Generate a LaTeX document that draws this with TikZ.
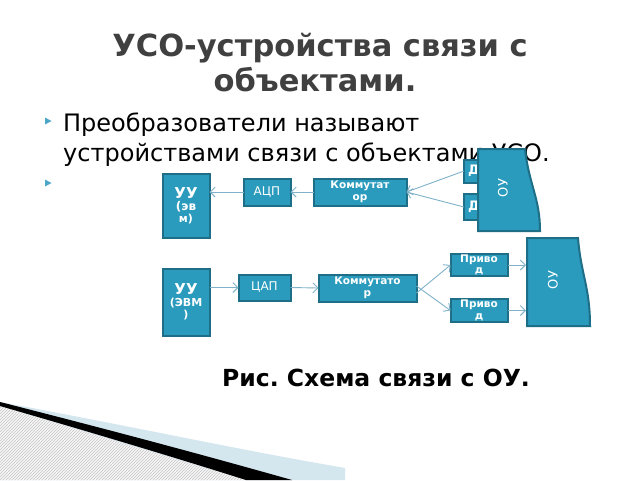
\documentclass[tikz,border=0pt]{standalone}
\usepackage{fontspec}
\setmainfont{DejaVu Sans}
\usetikzlibrary{arrows.meta,patterns}
\definecolor{boxfill}{HTML}{2A9BBD}
\definecolor{boxborder}{HTML}{1D6E86}
\definecolor{arrowc}{HTML}{7FB2C9}
\definecolor{titlec}{HTML}{404040}
\definecolor{bulletc}{HTML}{4BA6C8}
\definecolor{bandc}{HTML}{D4E6EE}
\frenchspacing
\begin{document}
\begin{tikzpicture}[x=1pt,y=-1pt,
  blk/.style={draw=boxborder, line width=2pt, fill=boxfill, text=white, inner sep=0pt, outer sep=0pt, align=center},
  conn/.style={draw=arrowc, line width=0.9pt, -{Straight Barb[length=5pt,width=10pt]}},
  ttl/.style={text=titlec, font=\fontsize{30.5}{36}\selectfont\bfseries, anchor=base, inner sep=0pt},
  body/.style={text=black, font=\fontsize{24}{28}\selectfont, anchor=base west, inner sep=0pt},
  small/.style={font=\fontsize{10.5}{11.5}\selectfont\bfseries},
  dbox/.style={blk, minimum width=28pt, text width=20pt, align=left, font=\fontsize{13}{13}\selectfont\bfseries},
  oulabel/.style={rotate=90, text=white, font=\fontsize{13}{13}\selectfont, inner sep=0pt}
]
\useasboundingbox (0,0) rectangle (640,480);
\fill[white] (0,0) rectangle (640,480);

% bottom-left decoration
\fill[bandc] (0,402) .. controls (140,428) and (240,450) .. (345,468) -- (345,480) -- (0,480) -- cycle;
\fill[gray!6] (0,406) -- (246,480) -- (0,480) -- cycle;
\fill[pattern=north east lines, pattern color=gray!45] (0,406) -- (246,480) -- (0,480) -- cycle;
\fill[black] (0,402) .. controls (110,430) and (200,454) .. (292,480) -- (246,480) .. controls (170,456) and (90,432) .. (0,406) -- cycle;

% title
\node[ttl] (t1) at (320,56) {УСО-устройства связи с};
\node[ttl] (t2) at (315,91) {объектами.};

% bullets
\fill[bulletc] (45,117.5) -- (51.5,121) -- (45,124.5) -- cycle;
\fill[bulletc] (45,179.5) -- (51.5,183) -- (45,186.5) -- cycle;
\node[body] (b1) at (63,131) {Преобразователи называют};
\node[body] (b2) at (63,161) {устройствами связи с объектами УСО.};

% top row
\node[blk, minimum width=47pt, minimum height=64pt] (uu1) at (186,205.5) {\fontsize{15}{15}\selectfont\bfseries УУ\\\fontsize{12}{13}\selectfont\bfseries (эв\\\fontsize{11}{12}\selectfont\bfseries м)};
\node[blk, minimum width=47pt, minimum height=27pt, font=\fontsize{12}{13}\selectfont] (acp) at (267,192) {АЦП};
\node[blk, minimum width=93pt, minimum height=27pt, small] (kom1) at (360,192) {Коммутат\\ор};
\node[dbox, minimum height=23pt] (d1) at (478,171) {Д};
\node[dbox, minimum height=26pt] (d2) at (478,207) {Д};
\fill[boxfill, draw=boxborder, line width=2pt] (478,149) -- (525,149) .. controls (529,185) and (540,198) .. (540,231) -- (478,231) -- cycle;
\node[oulabel] (ou1) at (503,188) {ОУ};

\draw[conn] (acp.west) -- (uu1.east |- acp.west);
\draw[conn] (kom1.west) -- (acp.east);
\draw[conn] (d1.west) -- (kom1.east);
\draw[conn] (d2.west) -- (kom1.east);

% bottom row
\node[blk, minimum width=47pt, minimum height=67pt] (uu2) at (186,302) {\fontsize{15}{15}\selectfont\bfseries УУ\\\fontsize{11}{13}\selectfont\bfseries (ЭВМ\\\fontsize{11}{12}\selectfont\bfseries )};
\node[blk, minimum width=52pt, minimum height=26pt, font=\fontsize{12}{13}\selectfont] (cap) at (264.5,287.5) {ЦАП};
\node[blk, minimum width=98pt, minimum height=27pt, small] (kom2) at (367.5,288) {Коммутато\\р};
\node[blk, minimum width=57pt, minimum height=22pt, small] (pr1) at (479,265) {Приво\\д};
\node[blk, minimum width=57pt, minimum height=23pt, small] (pr2) at (479,310.5) {Приво\\д};
\fill[boxfill, draw=boxborder, line width=2pt] (527,238) -- (578,238) .. controls (581,275) and (590,287) .. (590,326) -- (527,326) -- cycle;
\node[oulabel] (ou2) at (553,280) {ОУ};
\coordinate (ou2w) at (526,282);

\draw[conn] (uu2.east |- cap.west) -- (cap.west);
\draw[conn] (cap.east) -- (kom2.west);
\draw[conn] ([yshift=-5pt]kom2.east) -- (pr1.west);
\draw[conn] ([yshift=2pt]kom2.east) -- (pr2.west);
\draw[conn] (pr1.east) -- (pr1.east -| ou2w);
\draw[conn] (pr2.east) -- (pr2.east -| ou2w);

% caption
\node[anchor=base west, inner sep=0pt, font=\fontsize{23.5}{28}\selectfont\bfseries] (cap1) at (222,386) {Рис. Схема связи с ОУ.};
\end{tikzpicture}
\end{document}
